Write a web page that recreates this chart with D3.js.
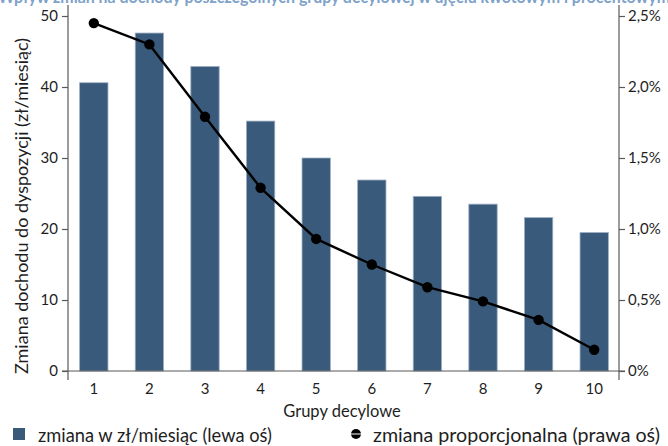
<!DOCTYPE html>
<html><head><meta charset="utf-8">
<script src="https://cdn.jsdelivr.net/npm/d3@7"></script>
<style>
html,body{margin:0;padding:0;background:#fff;}
svg{display:block;font-family:Lato,"Open Sans",sans-serif;}
</style></head>
<body>
<svg id="chart" width="668" height="446"></svg>
<script>
const categories = ["1","2","3","4","5","6","7","8","9","10"];
const zlValues = [40.6, 47.6, 42.9, 35.2, 30.0, 26.9, 24.6, 23.5, 21.6, 19.5];
const pctValues = [0.0245, 0.0230, 0.0179, 0.0129, 0.0093, 0.0075, 0.0059, 0.0049, 0.0036, 0.0015];
const leftTicks = [0, 10, 20, 30, 40, 50];
const rightTicks = [0, 0.005, 0.010, 0.015, 0.020, 0.025];
const rightTickLabels = ["0%", "0,5%", "1,0%", "1,5%", "2,0%", "2,5%"];
const titleText = "Wpływ zmian na dochody poszczególnych grupy decylowej w ujęciu kwotowym i procentowym";
const yTitle = "Zmiana dochodu do dyspozycji (zł/miesiąc)";
const xTitle = "Grupy decylowe";
const legendLabels = ["zmiana w zł/miesiąc (lewa oś)", "zmiana proporcjonalna (prawa oś)"];

const svg = d3.select("#chart");
const L = 68, R = 619, B = 371, T = 16;
const barColor = "#3a5a7c", axisColor = "#595959", textColor = "#1e1e1e";

const x = d3.scaleBand().domain(categories).range([66, 622]).paddingInner(0.49).paddingOuter(0.245);
const y = d3.scaleLinear().domain([0, 50]).range([B, T]);
const y2 = d3.scaleLinear().domain([0, 0.025]).range([B, T]);

// title (cut off by the top edge, as in the reference)
svg.append("text").attr("x", -2).attr("y", 2.5)
  .attr("font-size", 17).attr("font-weight", "bold").attr("fill", "#7ea2c9")
  .attr("textLength", 672).attr("lengthAdjust", "spacingAndGlyphs")
  .text(titleText);

// bars
svg.append("g").selectAll("rect").data(zlValues).join("rect")
  .attr("x", (d, i) => x(categories[i]))
  .attr("width", x.bandwidth())
  .attr("y", d => y(d))
  .attr("height", d => B - y(d))
  .attr("fill", barColor)
  .attr("stroke", "#9fb0c4").attr("stroke-width", 0.8);

// axis lines
const g = svg.append("g").attr("stroke", axisColor).attr("stroke-width", 1.2);
g.append("line").attr("x1", L).attr("x2", L).attr("y1", 5).attr("y2", 380);
g.append("line").attr("x1", R).attr("x2", R).attr("y1", 5).attr("y2", 380);
g.append("line").attr("x1", L - 6).attr("x2", R + 6).attr("y1", B).attr("y2", B);

// left axis
const ax = svg.append("g").attr("transform", `translate(${L},0)`)
  .call(d3.axisLeft(y).tickValues(leftTicks).tickSize(6).tickPadding(4).tickFormat(d3.format("d")));
ax.select(".domain").remove();
ax.selectAll("line").attr("stroke", axisColor).attr("stroke-width", 1.2);
ax.selectAll("text").attr("font-size", 15).attr("fill", textColor).attr("font-family", "Lato,sans-serif");

// right axis
const ax2 = svg.append("g").attr("transform", `translate(${R},0)`)
  .call(d3.axisRight(y2).tickValues(rightTicks).tickSize(6).tickPadding(3)
    .tickFormat((d, i) => rightTickLabels[i]));
ax2.select(".domain").remove();
ax2.selectAll("line").attr("stroke", axisColor).attr("stroke-width", 1.2);
ax2.selectAll("text").attr("font-size", 15).attr("fill", textColor).attr("font-family", "Lato,sans-serif");

// bottom axis labels
const ax3 = svg.append("g").attr("transform", `translate(0,${B})`)
  .call(d3.axisBottom(x).tickSize(0).tickPadding(12));
ax3.select(".domain").remove();
ax3.selectAll("text").attr("font-size", 15).attr("fill", textColor).attr("font-family", "Lato,sans-serif");

// axis titles
svg.append("text").attr("x", 342).attr("y", 417).attr("text-anchor", "middle")
  .attr("font-size", 16.5).attr("fill", textColor).text(xTitle);
svg.append("text").attr("transform", "translate(28,206) rotate(-90)").attr("text-anchor", "middle")
  .attr("font-size", 18).attr("fill", textColor).text(yTitle);

// line series
const cx = i => x(categories[i]) + x.bandwidth() / 2;
svg.append("path").datum(pctValues)
  .attr("d", d3.line().x((d, i) => cx(i)).y(d => y2(d)))
  .attr("fill", "none").attr("stroke", "#000").attr("stroke-width", 2.4);
svg.append("g").selectAll("circle").data(pctValues).join("circle")
  .attr("cx", (d, i) => cx(i)).attr("cy", d => y2(d)).attr("r", 5.2).attr("fill", "#000");

// legend
svg.append("rect").attr("x", 13).attr("y", 428).attr("width", 12).attr("height", 12).attr("fill", barColor);
svg.append("text").attr("x", 38).attr("y", 442).attr("font-size", 18.5).attr("fill", textColor)
  .attr("textLength", 234).attr("lengthAdjust", "spacingAndGlyphs").text(legendLabels[0]);
svg.append("circle").attr("cx", 356).attr("cy", 434).attr("r", 5).attr("fill", "#000");
svg.append("line").attr("x1", 350).attr("x2", 362).attr("y1", 434).attr("y2", 434).attr("stroke", "#fff").attr("stroke-width", 1);
svg.append("text").attr("x", 373).attr("y", 442).attr("font-size", 18.5).attr("fill", textColor)
  .attr("textLength", 287).attr("lengthAdjust", "spacingAndGlyphs").text(legendLabels[1]);
</script>
</body></html>
